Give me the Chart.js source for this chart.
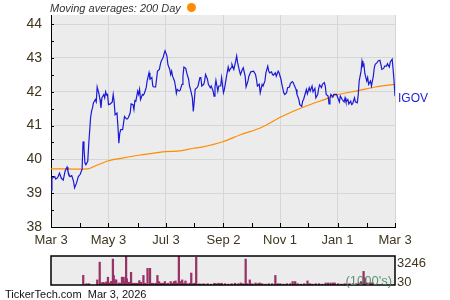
<!DOCTYPE html>
<html>
<head>
<meta charset="utf-8">
<script src="https://cdn.jsdelivr.net/npm/chart.js@4.4.1/dist/chart.umd.min.js"></script>
<style>
  body { margin: 0; background: #fff; }
  #wrap { position: relative; width: 450px; height: 300px; overflow: hidden; font-family: "Liberation Sans", Arial, sans-serif; }
  #price { position: absolute; left: 0; top: 0; }
  #volume { position: absolute; left: 0; top: 250px; }
  .txt { position: absolute; white-space: nowrap; line-height: 16px; }
</style>
</head>
<body>
<div id="wrap">
  <canvas id="price" width="450" height="250"></canvas>
  <canvas id="volume" width="450" height="50"></canvas>
  <div class="txt" style="left:50px; top:0px; font-size:11px; font-style:italic; color:#333;">Moving averages: 200 Day</div>
  <div style="position:absolute; left:187px; top:3px; width:9px; height:9px; border-radius:50%; background:#ff8c00;"></div>
  <div class="txt" style="left:397px; top:255px; font-size:13px; color:#40351f;">3246</div>
  <div class="txt" style="left:397px; top:274px; font-size:13px; color:#40351f;">30</div>
  <div class="txt" style="right:58px; top:273px; font-size:13px; color:rgba(70,130,95,0.85);">(1000's)</div>
  <div class="txt" style="left:5px; top:286px; font-size:11px; color:#111;">TickerTech.com&nbsp; Mar 3, 2026</div>
</div>
<script>
// days since Mar 3 of the previous year
const priceDays = [0,1,4,5,7,9,11,13,15,17,18,20,22,24,25,27,29,31,33,34,35,36,37,39,40,42,43,44,45,47,48,49,51,52,53,54,56,57,58,59,60,61,
  63,65,66,67,68,70,71,72,73,74,76,77,78,80,81,82,84,85,87,88,89,90,92,93,94,95,97,98,99,101,102,104,105,107,108,109,111,112,113,115,116,117,119,120,121,
  123,124,126,127,128,129,131,132,133,134,136,137,139,140,141,143,144,146,147,148,150,151,152,153,155,156,158,159,160,162,163,164,166,167,169,170,172,173,174,175,177,178,180,181,
  183,184,186,188,189,191,192,194,196,197,198,200,201,203,204,206,207,209,210,212,215,217,218,219,221,222,224,225,227,228,230,231,232,234,235,236,238,239,241,242,244,245,
  247,248,250,251,253,254,256,257,258,260,261,263,264,266,267,268,270,271,272,274,275,277,278,280,281,283,284,285,287,288,290,291,292,294,295,296,297,299,300,302,
  303,305,306,307,309,311,312,313,315,316,318,319,320,322,323,325,326,327,329,330,331,332,333,335,336,337,339,340,342,343,344,346,347,349,350,351,353,354,356,357,359,360,362,363,364,365];
const priceValues = [39.09,39.44,39.49,39.42,39.46,39.59,39.44,39.39,39.66,39.77,39.64,39.49,39.52,39.34,39.16,39.29,39.49,39.56,39.71,40.53,40.33,39.89,39.84,39.94,40.43,41.23,41.42,41.52,41.67,41.77,41.70,42.14,41.92,41.77,41.52,41.82,41.92,41.82,42.00,41.90,41.92,41.62,
  41.64,41.70,41.92,41.70,41.32,41.37,40.98,40.48,40.78,40.88,40.88,41.08,41.27,41.20,41.20,41.23,41.37,41.64,41.62,41.47,41.74,41.72,42.02,41.92,42.07,41.77,41.92,41.90,41.95,42.12,42.32,42.56,42.37,42.42,42.17,42.14,42.14,42.37,42.61,42.66,42.81,42.91,43.01,43.13,43.21,
  43.06,42.81,42.66,42.51,42.61,42.46,42.32,42.17,41.95,42.07,42.02,42.04,42.22,42.46,42.73,42.69,42.56,42.37,42.17,42.07,41.82,41.42,41.72,42.07,42.12,42.17,42.42,42.42,42.17,42.22,42.32,42.51,42.37,42.22,42.12,42.17,42.02,41.87,42.14,42.34,42.02,42.17,42.17,42.42,
  41.97,42.07,42.42,42.73,42.61,42.71,42.81,42.66,42.91,43.06,42.86,42.61,42.51,42.66,42.71,42.46,42.14,42.32,42.46,42.59,42.61,42.51,42.37,42.17,42.22,41.97,42.22,42.17,42.32,42.56,42.76,42.61,42.56,42.59,42.51,42.49,42.56,42.46,42.61,42.56,42.37,42.22,
  41.97,41.92,41.97,42.12,42.14,42.24,42.30,42.27,42.20,42.07,41.92,41.77,41.62,41.57,41.72,41.77,41.97,42.07,41.94,42.12,42.02,42.17,42.00,42.10,41.82,41.92,42.10,42.20,42.12,42.22,42.27,42.17,41.92,41.87,41.64,41.82,41.92,41.84,41.92,41.92,
  41.92,41.77,41.70,41.87,41.77,41.70,41.82,41.70,41.77,41.64,41.72,41.62,41.64,41.82,41.70,41.67,41.92,42.32,42.61,42.91,42.76,42.81,42.54,42.32,42.42,42.22,42.32,42.17,42.46,42.71,42.81,42.86,42.91,42.93,42.81,42.66,42.69,42.76,42.76,42.83,42.73,42.88,42.96,42.66,42.32,41.87];

const maDays = [0,39,45,61,74,95,121,137,151,160,183,201,222,245,270,295,302,327,344,365];
const maValues = [39.72,39.72,39.78,39.96,40.03,40.13,40.23,40.25,40.33,40.36,40.53,40.73,40.93,41.27,41.57,41.82,41.90,42.04,42.14,42.22];

const volDays = [13,17,20,30,33,35,37,39,41,43,45,47,49,50,52,53,56,58,60,62,63,65,66,68,70,71,73,75,77,79,81,83,86,88,91,94,96,98,101,103,105,107,109,111,112,114,116,119,121,123,125,127,129,131,133,135,137,139,142,144,146,148,150,
  153,155,158,160,164,168,172,174,177,179,181,185,189,193,197,201,204,207,210,212,215,218,222,225,227,230,234,238,242,246,249,252,256,260,264,267,270,273,277,281,285,288,291,295,299,303,307,310,313,316,318,322,326,330,333,336,340,344,347,350,353,355,357,360,362,364];
const volValues = [1100,150,150,580,2600,250,300,250,350,890,250,420,2950,1090,580,580,230,200,890,890,390,3246,700,310,310,1440,200,200,200,200,500,310,1090,200,1900,1900,200,200,200,1090,390,200,200,200,390,150,200,390,200,390,460,200,3246,390,580,200,460,150,200,1360,150,200,3150,
  120,120,120,120,150,100,200,150,200,150,200,150,100,150,200,150,230,150,2950,150,580,150,230,150,230,150,100,150,150,1090,150,150,100,150,150,390,390,150,100,150,460,150,100,150,150,100,230,230,230,230,230,150,100,150,100,150,150,150,230,390,1550,780,230,230,230,230];

const tickDays = [0,61,122,183,243,304,365];
const tickLabels = ['Mar 3','May 3','Jul 3','Sep 2','Nov 1','Jan 1','Mar 3'];
const minorDays = [31,92,152,213,273,335];
const yTicks = [38,39,40,41,42,43,44];

const FONT = '"Liberation Sans", Arial, sans-serif';
const labelColor = '#40351f';

const plotBg = {
  id: 'plotBg',
  beforeDraw(chart) {
    const { ctx, chartArea: a } = chart;
    ctx.save();
    ctx.fillStyle = '#ececec';
    ctx.fillRect(a.left, a.top, a.right - a.left, a.bottom - a.top);
    ctx.restore();
  }
};

// short inward ticks: half units on the price axis, every month on the date axis
const innerTicks = {
  id: 'innerTicks',
  afterDraw(chart) {
    const { ctx, chartArea: a, scales } = chart;
    ctx.save();
    ctx.strokeStyle = '#000';
    ctx.lineWidth = 1;
    ctx.beginPath();
    for (let v = 38.5; v < 44.3; v += 0.5) {
      const y = Math.round(scales.y.getPixelForValue(v)) + 0.5;
      ctx.moveTo(a.left, y); ctx.lineTo(a.left + 3, y);
    }
    tickDays.concat(minorDays).forEach(d => {
      const x = Math.round(scales.x.getPixelForValue(d)) + 0.5;
      ctx.moveTo(x, a.bottom); ctx.lineTo(x, a.bottom - 4);
    });
    ctx.stroke();
    ctx.restore();
  }
};

const lastLabel = {
  id: 'lastLabel',
  afterDatasetsDraw(chart) {
    const meta = chart.getDatasetMeta(0);
    const pt = meta.data[meta.data.length - 1];
    const { ctx } = chart;
    ctx.save();
    ctx.fillStyle = '#2222d8';
    ctx.font = '12px ' + FONT;
    ctx.textBaseline = 'middle';
    ctx.fillText('IGOV', pt.x + 3, pt.y + 3);
    ctx.restore();
  }
};

new Chart(document.getElementById('price'), {
  type: 'line',
  data: {
    datasets: [
      {
        label: 'IGOV',
        data: priceDays.map((d, i) => ({ x: d, y: priceValues[i] })),
        borderColor: '#1a1ad6',
        borderWidth: 1.2,
        pointRadius: 0,
        tension: 0
      },
      {
        label: '200 Day',
        data: maDays.map((d, i) => ({ x: d, y: maValues[i] })),
        borderColor: '#ff8c00',
        borderWidth: 1.2,
        pointRadius: 0,
        tension: 0.3
      }
    ]
  },
  options: {
    responsive: false,
    animation: false,
    layout: { padding: { left: 0, right: 55, top: 15, bottom: 0 } },
    plugins: { legend: { display: false }, tooltip: { enabled: false } },
    scales: {
      x: {
        type: 'linear',
        min: 0,
        max: 365,
        afterBuildTicks: s => { s.ticks = tickDays.map(v => ({ value: v })); },
        afterFit: s => { s.height = 23; s.paddingLeft = 0; s.paddingRight = 0; },
        grid: { color: '#d6d6d6', drawTicks: false },
        border: { color: '#000', width: 1 },
        ticks: {
          padding: 6,
          maxRotation: 0,
          autoSkip: false,
          color: labelColor,
          font: { size: 13, family: FONT },
          callback: v => tickLabels[tickDays.indexOf(v)] ?? ''
        }
      },
      y: {
        min: 38,
        max: 44.27,
        afterBuildTicks: s => { s.ticks = yTicks.map(v => ({ value: v })); },
        afterFit: s => { s.width = 51; s.paddingTop = 0; s.paddingBottom = 0; },
        grid: { color: '#d6d6d6', drawTicks: false },
        border: { color: '#000', width: 1 },
        ticks: { padding: 9, color: labelColor, font: { size: 14, family: FONT } }
      }
    }
  },
  plugins: [plotBg, innerTicks, lastLabel]
});

const frame = {
  id: 'frame',
  afterDraw(chart) {
    const { ctx, chartArea: a } = chart;
    ctx.save();
    ctx.strokeStyle = '#000';
    ctx.lineWidth = 1.5;
    ctx.strokeRect(a.left, a.top, a.right - a.left, a.bottom - a.top);
    ctx.restore();
  }
};

new Chart(document.getElementById('volume'), {
  type: 'bar',
  data: {
    datasets: [{
      data: volDays.map((d, i) => ({ x: d, y: volValues[i] })),
      backgroundColor: '#993366',
      barThickness: 1.6
    }]
  },
  options: {
    responsive: false,
    animation: false,
    layout: { padding: { left: 51, right: 55, top: 6, bottom: 15 } },
    plugins: { legend: { display: false }, tooltip: { enabled: false } },
    scales: {
      x: { type: 'linear', min: 0, max: 365, display: false },
      y: { min: 0, max: 3300, display: false }
    }
  },
  plugins: [plotBg, frame]
});
</script>
</body>
</html>
